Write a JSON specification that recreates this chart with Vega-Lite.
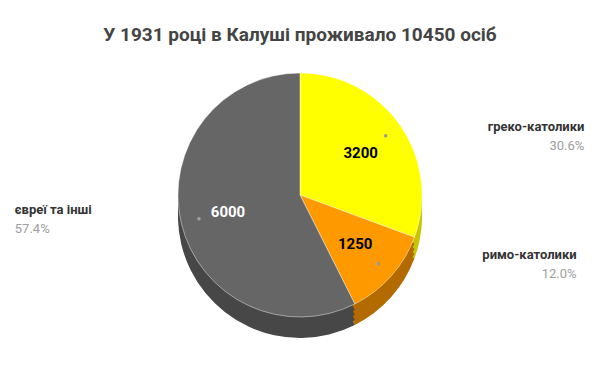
{
  "$schema": "https://vega.github.io/schema/vega-lite/v6.json",
  "width": 600,
  "height": 371,
  "autosize": {"type": "fit", "contains": "padding"},
  "padding": {"top": 26, "bottom": 36, "left": 0, "right": 0},
  "background": "white",
  "title": {
    "text": "У 1931 році в Калуші проживало 10450 осіб",
    "font": "Roboto",
    "fontSize": 19,
    "fontWeight": "bold",
    "color": "#444444",
    "anchor": "middle",
    "offset": 10
  },
  "config": {"view": {"stroke": null}, "font": "Roboto"},
  "data": {
    "values": [
      {"category": "греко-католики", "value": 3200, "pct": "30.6%", "ord": 1, "side": "right", "ink": "black"},
      {"category": "римо-католики", "value": 1250, "pct": "12.0%", "ord": 2, "side": "right", "ink": "black"},
      {"category": "євреї та інші", "value": 6000, "pct": "57.4%", "ord": 3, "side": "left", "ink": "white"}
    ]
  },
  "encoding": {
    "theta": {"field": "value", "type": "quantitative", "stack": true},
    "order": {"field": "ord", "type": "quantitative"}
  },
  "layer": [
    {
      "mark": {"type": "arc", "outerRadius": 122, "yOffset": 21},
      "encoding": {"color": {"field": "category", "type": "nominal", "legend": null,
        "scale": {"domain": ["греко-католики", "римо-католики", "євреї та інші"], "range": ["#c6c600", "#b36b00", "#474747"]}}}
    },
    {
      "mark": {"type": "arc", "outerRadius": 122, "yOffset": 16},
      "encoding": {"color": {"field": "category", "type": "nominal", "legend": null,
        "scale": {"domain": ["греко-католики", "римо-католики", "євреї та інші"], "range": ["#c6c600", "#b36b00", "#474747"]}}}
    },
    {
      "mark": {"type": "arc", "outerRadius": 122, "yOffset": 11},
      "encoding": {"color": {"field": "category", "type": "nominal", "legend": null,
        "scale": {"domain": ["греко-католики", "римо-католики", "євреї та інші"], "range": ["#c6c600", "#b36b00", "#474747"]}}}
    },
    {
      "mark": {"type": "arc", "outerRadius": 122, "yOffset": 6},
      "encoding": {"color": {"field": "category", "type": "nominal", "legend": null,
        "scale": {"domain": ["греко-католики", "римо-католики", "євреї та інші"], "range": ["#c6c600", "#b36b00", "#474747"]}}}
    },
    {
      "mark": {"type": "arc", "outerRadius": 122, "stroke": "#ffffff", "strokeOpacity": 0.45, "strokeWidth": 1},
      "encoding": {"color": {"field": "category", "type": "nominal", "legend": null,
        "scale": {"domain": ["греко-католики", "римо-католики", "євреї та інші"], "range": ["#ffff00", "#ff9900", "#666666"]}}}
    },
    {
      "mark": {"type": "text", "radius": 74, "font": "Roboto", "fontSize": 15, "fontWeight": "bold"},
      "encoding": {
        "text": {"field": "value", "type": "quantitative", "format": "d"},
        "color": {"field": "ink", "type": "nominal", "legend": null, "scale": {"domain": ["black", "white"], "range": ["#000000", "#ffffff"]}}
      }
    },
    {
      "mark": {"type": "text", "radius": 104, "fontSize": 8, "color": "#9e9e9e"},
      "encoding": {"text": {"value": "●"}}
    },
    {
      "mark": {"type": "text", "radius": 104, "align": "right", "baseline": "bottom", "dx": 199, "dy": -2, "font": "Roboto", "fontSize": 13, "fontWeight": "bold", "color": "#333333"},
      "encoding": {"text": {"condition": {"test": "datum.side === 'right'", "field": "category"}, "value": ""}}
    },
    {
      "mark": {"type": "text", "radius": 104, "align": "right", "baseline": "top", "dx": 199, "dy": 4, "font": "Roboto", "fontSize": 13, "color": "#9e9e9e"},
      "encoding": {"text": {"condition": {"test": "datum.side === 'right'", "field": "pct"}, "value": ""}}
    },
    {
      "mark": {"type": "text", "radius": 104, "align": "left", "baseline": "bottom", "dx": -184, "dy": -2, "font": "Roboto", "fontSize": 13, "fontWeight": "bold", "color": "#333333"},
      "encoding": {"text": {"condition": {"test": "datum.side === 'left'", "field": "category"}, "value": ""}}
    },
    {
      "mark": {"type": "text", "radius": 104, "align": "left", "baseline": "top", "dx": -184, "dy": 4, "font": "Roboto", "fontSize": 13, "color": "#9e9e9e"},
      "encoding": {"text": {"condition": {"test": "datum.side === 'left'", "field": "pct"}, "value": ""}}
    }
  ],
  "resolve": {"scale": {"color": "independent"}}
}
